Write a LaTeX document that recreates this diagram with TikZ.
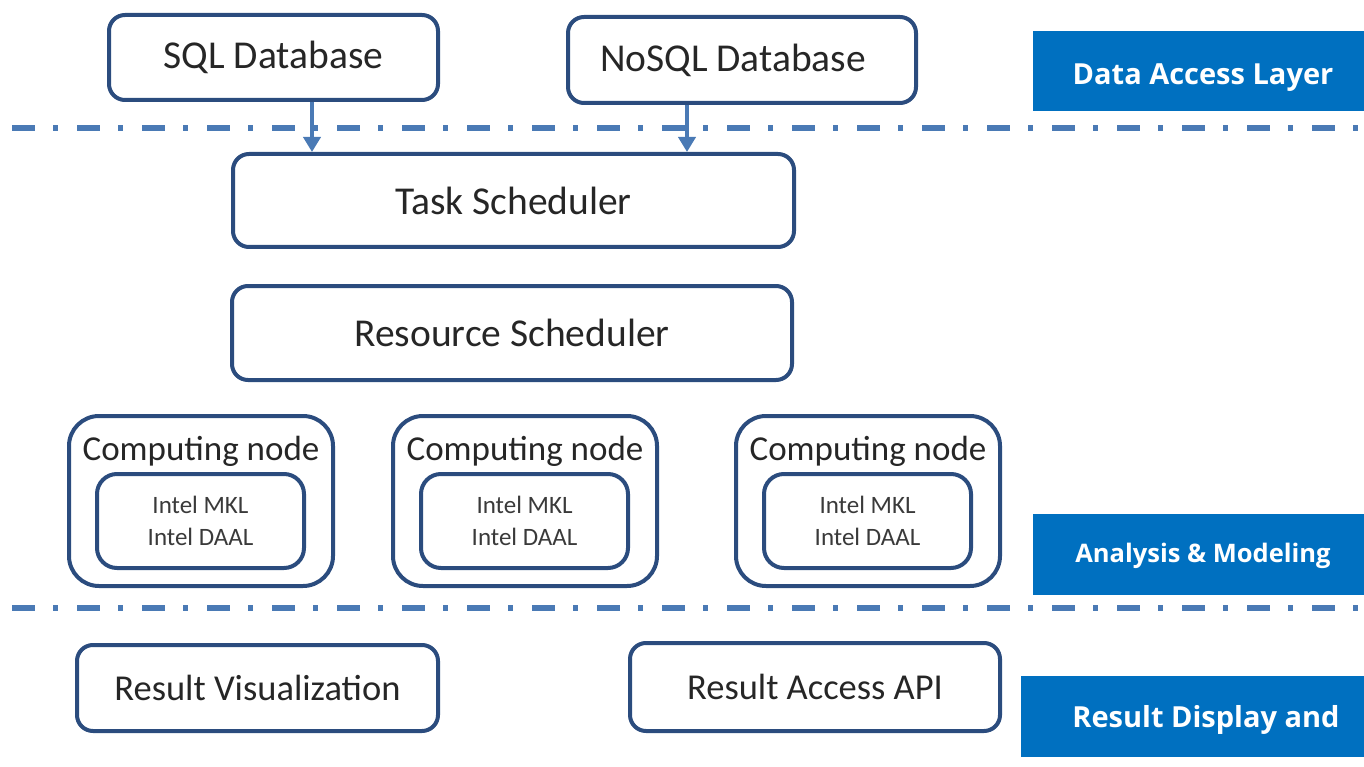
\documentclass[tikz,border=0pt]{standalone}
\usepackage{fontspec}
\setmainfont{Carlito}
\newfontfamily\labfont{Open Sans}
\usetikzlibrary{arrows.meta}
\definecolor{boxblue}{HTML}{2B4C7E}
\definecolor{lineblue}{HTML}{4A7AB5}
\definecolor{labblue}{HTML}{0070C0}
\definecolor{txt}{HTML}{262626}
\definecolor{txtlight}{HTML}{3A3A3A}
\begin{document}
\begin{tikzpicture}[x=1pt,y=-1pt,
  box/.style={draw=boxblue,line width=4pt,rounded corners=16pt,text=txt,inner sep=0pt,align=center},
  big/.style={font=\fontsize{39.5}{47}\selectfont},
  mid/.style={font=\fontsize{36.5}{44}\selectfont},
  comp/.style={box,rounded corners=30pt,minimum width=264pt,minimum height=170pt},
  inner/.style={box,rounded corners=20pt,minimum width=207pt,minimum height=94pt,text=txtlight,font=\fontsize{25}{32}\selectfont},
  comptext/.style={text=txt,inner sep=0pt,font=\fontsize{35}{40}\selectfont},
  sepline/.style={draw=lineblue,line width=6pt,dash pattern=on 23pt off 18pt on 5pt off 19pt},
  arr/.style={draw=lineblue,line width=4pt,-{Triangle[length=15pt,width=17pt]}},
  labbox/.style={fill=labblue,draw=none,inner sep=0pt},
  labtext/.style={text=white,inner sep=0pt,font=\labfont\bfseries\fontsize{29}{34}\selectfont},
  labsmall/.style={text=white,inner sep=0pt,font=\labfont\bfseries\fontsize{25.5}{30}\selectfont}
]
\useasboundingbox (0,0) rectangle (1364,767);

% separators
\coordinate (s1a) at (12,128);
\coordinate (s1b) at (1364,128);
\coordinate (s2a) at (12,608);
\coordinate (s2b) at (1364,608);
\draw[sepline] (s1a) -- (s1b);
\draw[sepline] (s2a) -- (s2b);

% data access layer
\node[box,big,minimum width=329pt,minimum height=85pt] (sql) at (273.5,57.5) {SQL Database};
\node[box,big,minimum width=348pt,minimum height=86pt] (nosql) at (742,60) {NoSQL Database\hspace{18pt}};

% analysis
\node[box,big,minimum width=561pt,minimum height=93pt] (task) at (513.5,200.5) {Task Scheduler};
\node[box,big,minimum width=560pt,minimum height=94pt] (res) at (512,333) {Resource Scheduler};

\node[comp] (c1) at (201,501) {};
\node[comp] (c2) at (525,501) {};
\node[comp] (c3) at (868,501) {};
\node[comptext] (c1t) at (201,451) {Computing node};
\node[comptext] (c2t) at (525,451) {Computing node};
\node[comptext] (c3t) at (868,451) {Computing node};
\node[inner] (i1) at (200.5,521) {Intel MKL\\Intel DAAL};
\node[inner] (i2) at (524.5,521) {Intel MKL\\Intel DAAL};
\node[inner] (i3) at (867.5,521) {Intel MKL\\Intel DAAL};

% results
\node[box,mid,minimum width=361pt,minimum height=86pt] (vis) at (257.5,688) {Result Visualization};
\node[box,mid,minimum width=370pt,minimum height=88pt] (api) at (815,687) {Result Access API};

% arrows
\draw[arr] ([xshift=38.5pt]sql.south) -- ([xshift=38.5pt]sql.south |- task.north);
\draw[arr] ([xshift=-55pt]nosql.south) -- ([xshift=-55pt]nosql.south |- task.north);

% layer labels
\node[labbox,minimum width=331pt,minimum height=80pt] (l1) at (1198.5,71) {};
\node[labtext] (l1t) at (1203,78) {Data Access Layer};
\node[labbox,minimum width=331pt,minimum height=81pt] (l2) at (1198.5,554.5) {};
\node[labsmall] (l2t) at (1203,556) {Analysis \& Modeling};
\node[labbox,minimum width=343pt,minimum height=81pt] (l3) at (1192.5,716.5) {};
\node[labtext] (l3t) at (1206,720) {Result Display and};
\end{tikzpicture}
\end{document}
